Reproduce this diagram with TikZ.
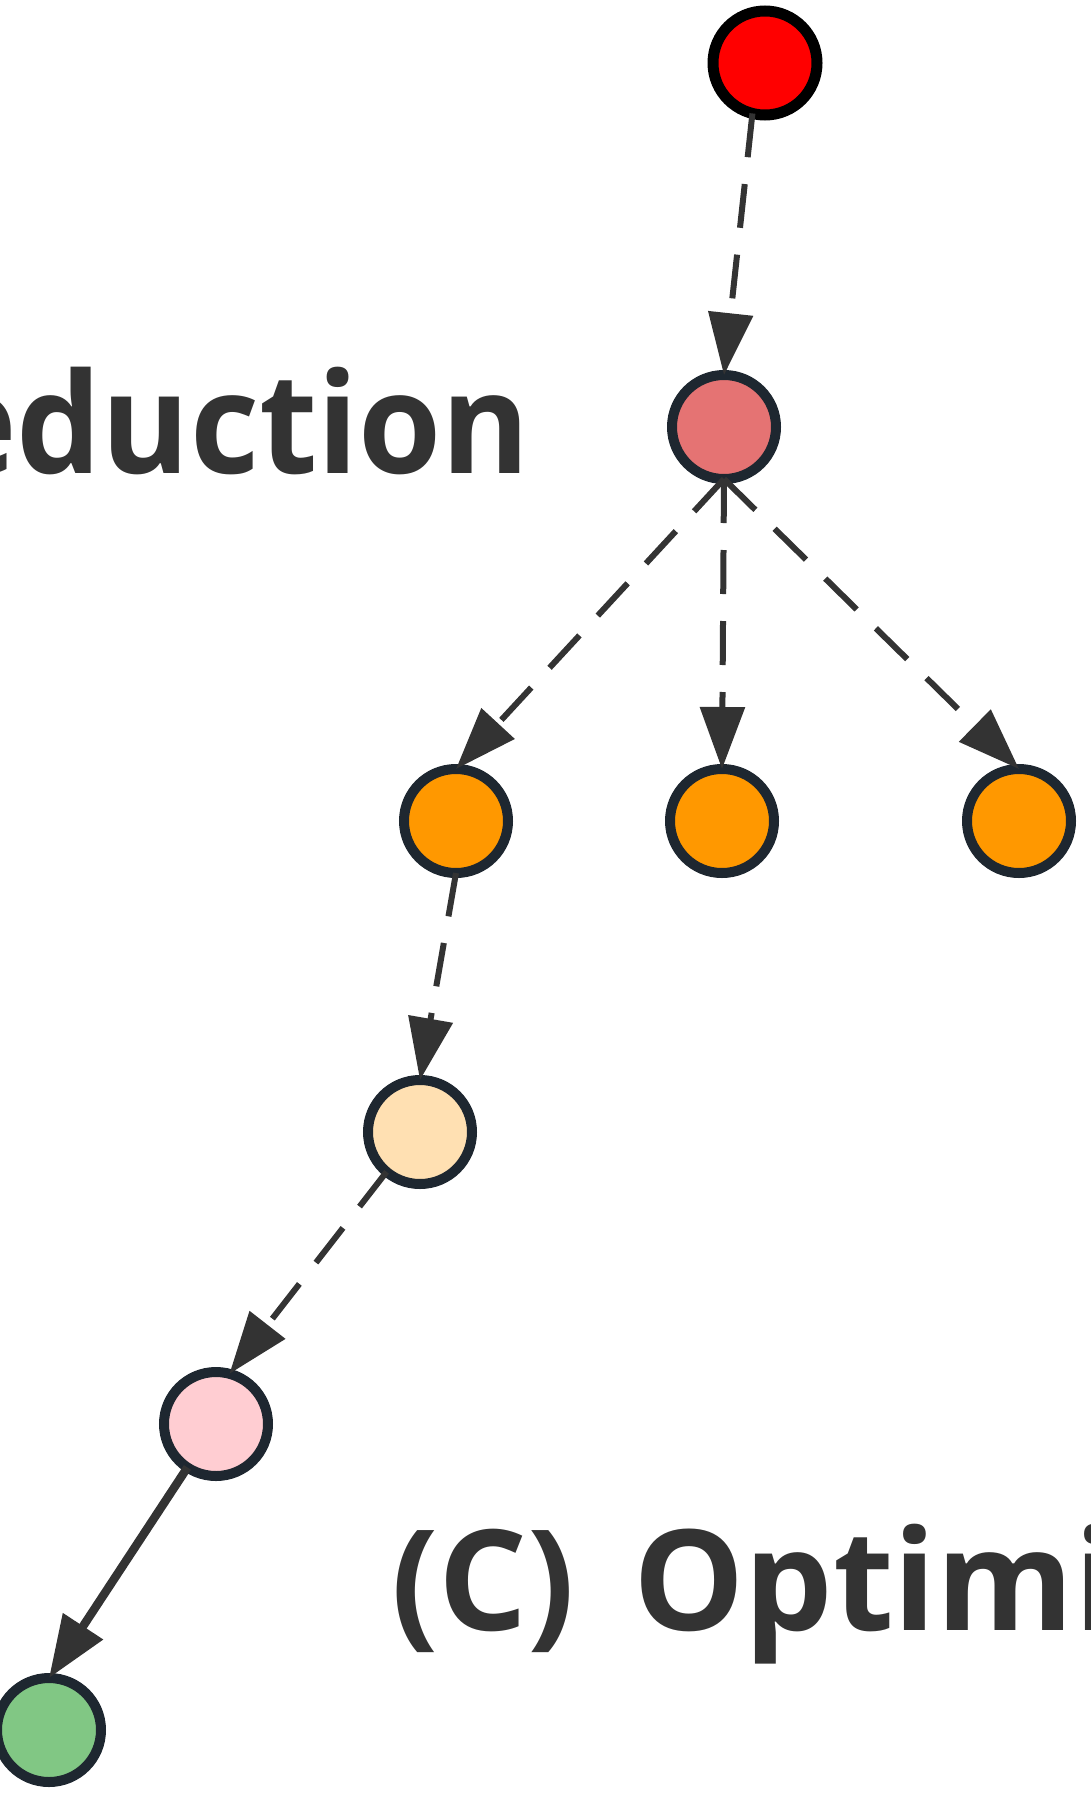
\documentclass[tikz,border=0pt]{standalone}
\usepackage{fontspec}
\setmainfont{Open Sans}
\newfontfamily\lblfont[FakeStretch=0.96]{Open Sans}
\newfontfamily\lblfontb{Open Sans}
\usetikzlibrary{arrows.meta}
\definecolor{txtgray}{HTML}{333333}
\definecolor{ringdark}{HTML}{1E2730}
\definecolor{cred}{HTML}{FF0000}
\definecolor{csalmon}{HTML}{E57373}
\definecolor{corange}{HTML}{FF9800}
\definecolor{cpeach}{HTML}{FFE0B2}
\definecolor{cpink}{HTML}{FFCDD2}
\definecolor{cgreen}{HTML}{81C784}
\tikzset{
  dot/.style={circle, draw=ringdark, line width=10pt, minimum size=104pt, inner sep=0pt, outer sep=0pt},
  dashedge/.style={draw=txtgray, line width=6pt, dash pattern=on 44pt off 27pt, -{Triangle[length=62pt,width=44pt]}},
  solidedge/.style={draw=txtgray, line width=8.5pt, -{Triangle[length=62pt,width=46pt]}},
  bigtext/.style={text=txtgray, inner sep=0pt, outer sep=0pt}
}
\begin{document}
\begin{tikzpicture}[x=1pt,y=-1pt]
\useasboundingbox (0,0) rectangle (1090,1794);
\clip (0,0) rectangle (1090,1794);
\node[dot, draw=black, line width=11pt, fill=cred] (red) at (765,63) {};
\node[dot, fill=csalmon] (salmon) at (724,427) {};
\node[dot, fill=corange] (o1) at (456,821) {};
\node[dot, fill=corange] (o2) at (722,821) {};
\node[dot, fill=corange] (o3) at (1019,821) {};
\node[dot, fill=cpeach] (peach) at (420,1132) {};
\node[dot, fill=cpink] (pink) at (216,1424) {};
\node[dot, fill=cgreen] (green) at (49,1730) {};
\draw[dashedge] (red.-104) -- (salmon.north);
\draw[dashedge] (salmon.south) -- (o1.north);
\draw[dashedge] (salmon.south) -- (o2.north);
\draw[dashedge] (salmon.south) -- (o3.north);
\draw[dashedge] (o1.south) -- (peach.north);
\draw[dashedge] (peach.-130) -- (pink.75);
\draw[solidedge] (pink) -- (green.north);
\node[bigtext, font=\lblfont\fontsize{140}{160}\selectfont\bfseries, anchor=base east] (lbl1) at (530,473) {eduction};
\node[bigtext, font=\lblfontb\fontsize{140}{160}\selectfont\bfseries, anchor=base west] (lbl2) at (391,1630) {(C)\hspace{58pt}Optimi};
\end{tikzpicture}
\end{document}
